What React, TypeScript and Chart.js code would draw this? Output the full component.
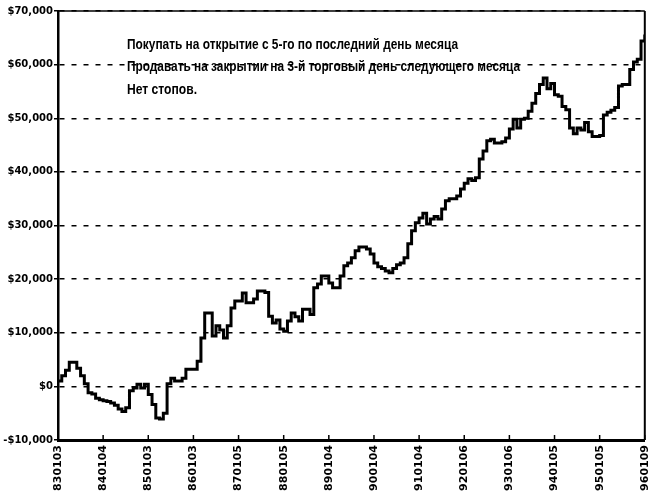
import { useEffect, useRef } from "react";
import { Chart, registerables } from "chart.js";

Chart.register(...registerables);

// Tick labels on the date axis (one every 12 monthly trades)
const xTickLabels = [
  "830103", "840104", "850103", "860103", "870105", "880105", "890104",
  "900104", "910104", "920106", "930106", "940105", "950105", "960109",
];
const monthsPerTick = 12;

// Cumulative equity, one value per month (Jan 1983 .. Jan 1996)
const equity = [
  1000, 2000, 3000, 4500, 4500, 3400, 2000, 500, -1200, -1400,
  -2200, -2500, -2700, -2800, -3100, -3500, -4200, -4700, -4000, -800,
  -300, 400, -300, 400, -1500, -3400, -5900, -6100, -5000, 500,
  1500, 1000, 1000, 1500, 3200, 3200, 3200, 4700, 9000, 13700,
  13700, 9400, 11300, 10500, 9000, 11300, 14600, 15900, 15900, 17400,
  15600, 15600, 16300, 17800, 17800, 17500, 13100, 11800, 12400, 10700,
  10300, 12200, 13700, 13000, 12200, 14400, 14400, 13400, 18400, 19100,
  20600, 20600, 19300, 18400, 18400, 20600, 22500, 23000, 24000, 25300,
  26000, 26000, 25600, 24700, 23000, 22300, 22000, 21500, 21200, 22000,
  22700, 23000, 24000, 26600, 29000, 30500, 31400, 32300, 30300, 31200,
  31700, 31200, 33100, 34600, 35000, 35000, 35500, 36800, 37900, 38700,
  38400, 38900, 42400, 43900, 45800, 46100, 45400, 45400, 45600, 46300,
  48000, 49800, 48200, 49800, 50000, 51300, 52800, 54600, 56300, 57500,
  55500, 56500, 54400, 54100, 52200, 51600, 48200, 47100, 48200, 47800,
  49200, 47500, 46600, 46600, 46800, 50600, 51100, 51500, 52000, 56000,
  56300, 56300, 59100, 60500, 61000, 64400, 65600, 65600,
];

const yMin = -10000;
const yMax = 70000;
const yStep = 10000;

const noteLines = [
  "Покупать на открытие с 5-го по последний день месяца",
  "Продавать на закрытии на 3-й торговый день следующего месяца",
  "Нет стопов.",
];
const noteMaxWidths = [331, 393, 70];

function formatDollars(v: number): string {
  const abs = Math.abs(v).toLocaleString("en-US");
  return v < 0 ? "-$" + abs : "$" + abs;
}

export default function App() {
  const ref = useRef<HTMLCanvasElement>(null);

  useEffect(() => {
    document.body.style.margin = "0";
    const canvas = ref.current;
    if (!canvas) return;

    const framePlugin = {
      id: "frameAndNotes",
      afterDraw(chart: any) {
        const { ctx, chartArea } = chart;
        ctx.save();
        ctx.strokeStyle = "#000";
        // top border
        ctx.lineWidth = 1.5;
        ctx.beginPath();
        ctx.moveTo(chartArea.left, chartArea.top);
        ctx.lineTo(chartArea.right, chartArea.top);
        ctx.stroke();
        // right border
        ctx.lineWidth = 2;
        ctx.beginPath();
        ctx.moveTo(chartArea.right, chartArea.top);
        ctx.lineTo(chartArea.right, chartArea.bottom);
        ctx.stroke();
        // inward tick marks on the date axis
        const xs = chart.scales.x;
        ctx.lineWidth = 1.5;
        xs.ticks.forEach((t: any) => {
          const px = xs.getPixelForValue(t.value);
          ctx.beginPath();
          ctx.moveTo(px, chartArea.bottom);
          ctx.lineTo(px, chartArea.bottom - 5);
          ctx.stroke();
        });
        // notes
        ctx.fillStyle = "#000";
        ctx.font = 'bold 14px "Liberation Sans Narrow", "Liberation Sans", Arial, sans-serif';
        ctx.textBaseline = "middle";
        ctx.textAlign = "left";
        noteLines.forEach((line, i) => {
          ctx.fillText(line, chartArea.left + 69, chartArea.top + 34 + i * 22.5, noteMaxWidths[i]);
        });
        ctx.restore();
      },
    };

    const chart = new Chart(canvas, {
      type: "line",
      data: {
        datasets: [
          {
            data: equity.map((v, i) => ({ x: i, y: v })),
            borderColor: "#000",
            borderWidth: 3,
            pointRadius: 0,
            stepped: true,
            fill: false,
          },
        ],
      },
      options: {
        responsive: false,
        animation: false,
        layout: { padding: { top: 11, right: 16, left: 0, bottom: 0 } },
        plugins: { legend: { display: false }, tooltip: { enabled: false } },
        scales: {
          x: {
            type: "linear",
            min: 0,
            max: (xTickLabels.length - 1) * monthsPerTick,
            afterFit(scale: any) {
              scale.height = 52;
            },
            grid: { display: false, drawTicks: false },
            border: { display: true, color: "#000", width: 3 },
            ticks: {
              stepSize: monthsPerTick,
              autoSkip: false,
              minRotation: 90,
              maxRotation: 90,
              padding: 5,
              color: "#000",
              font: { family: '"DejaVu Sans", sans-serif', weight: "bold", size: 11 },
              callback: (v: any) => xTickLabels[Math.round(Number(v) / monthsPerTick)] ?? "",
            },
          },
          y: {
            type: "linear",
            min: yMin,
            max: yMax,
            afterFit(scale: any) {
              scale.width = 58;
            },
            grid: {
              display: true,
              color: "#000",
              lineWidth: 1.5,
              drawTicks: true,
              tickLength: 4,
              tickColor: "#000",
              tickWidth: 1.5,
            },
            border: { display: true, color: "#000", width: 2.5, dash: [5, 7] },
            ticks: {
              stepSize: yStep,
              padding: 1,
              color: "#000",
              font: { family: '"DejaVu Sans", sans-serif', weight: "bold", size: 10 },
              callback: (v: any) => formatDollars(Number(v)),
            },
          },
        },
      },
      plugins: [framePlugin],
    });

    return () => chart.destroy();
  }, []);

  return (
    <div style={{ width: 663, height: 492 }}>
      <canvas ref={ref} width={663} height={492} style={{ display: "block" }} />
    </div>
  );
}
